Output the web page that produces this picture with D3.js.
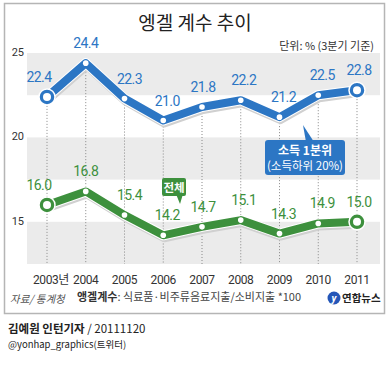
<!DOCTYPE html>
<html>
<head>
<meta charset="utf-8">
<script src="https://cdn.jsdelivr.net/npm/d3@7"></script>
<style>
  body { margin: 0; background: #fff; }
  text { font-family: Roboto, "Noto Sans CJK KR", sans-serif; }
  .kr { font-family: "Noto Sans CJK KR", sans-serif; }
</style>
</head>
<body>
<svg id="chart" width="389" height="378"></svg>
<script>
// data
var years = ["2003", "2004", "2005", "2006", "2007", "2008", "2009", "2010", "2011"];
var yearLabels = ["2003년", "2004", "2005", "2006", "2007", "2008", "2009", "2010", "2011"];
var lowIncome = [22.4, 24.4, 22.3, 21.0, 21.8, 22.2, 21.2, 22.5, 22.8];
var total = [16.0, 16.8, 15.4, 14.2, 14.7, 15.1, 14.3, 14.9, 15.0];
var yTicks = [25, 20, 15];
var bands = [[22.5, 25], [17.5, 20], [12.5, 15]];

var blue = "#2c76c4", green = "#3d903d";

var svg = d3.select("#chart");

// frame
svg.append("rect").attr("x", 4.5).attr("y", 3.5).attr("width", 380).attr("height", 310)
    .attr("fill", "#fff").attr("stroke", "#b5b5b5").attr("stroke-width", 1.5);

var x = d3.scalePoint().domain(years).range([47, 357]);
var y = d3.scaleLinear().domain([12.5, 25]).range([264, 53]);

// grey bands
svg.selectAll("rect.band").data(bands).enter().append("rect")
    .attr("class", "band")
    .attr("x", 27).attr("width", 353)
    .attr("y", function (d) { return y(d[1]); })
    .attr("height", function (d) { return y(d[0]) - y(d[1]); })
    .attr("fill", "#ebebeb");

// y tick labels
svg.selectAll("text.ytick").data(yTicks).enter().append("text")
    .attr("class", "ytick")
    .attr("x", 24).attr("y", function (d) { return y(d) + 3; })
    .attr("text-anchor", "end").attr("font-size", 11).attr("fill", "#333")
    .text(function (d) { return d; });

// dotted drop lines
svg.selectAll("line.drop").data(years).enter().append("line")
    .attr("class", "drop")
    .attr("x1", function (d) { return x(d); }).attr("x2", function (d) { return x(d); })
    .attr("y1", function (d, i) { return y(lowIncome[i]); }).attr("y2", y(12.5))
    .attr("stroke", "#888").attr("stroke-width", 1).attr("stroke-dasharray", "1,2");

// title
svg.append("text").attr("class", "kr").attr("x", 195).attr("y", 30)
    .attr("text-anchor", "middle").attr("font-size", 19).attr("fill", "#222")
    .text("엥겔 계수 추이");
svg.append("text").attr("class", "kr").attr("x", 374).attr("y", 50)
    .attr("text-anchor", "end").attr("font-size", 11).attr("fill", "#333")
    .text("단위: % (3분기 기준)");

// series
function drawSeries(vals, color, labelDx) {
    var line = d3.line()
        .x(function (d, i) { return x(years[i]); })
        .y(function (d) { return y(d); });
    svg.append("path").datum(vals).attr("d", line)
        .attr("transform", "translate(1,3)")
        .attr("fill", "none").attr("stroke", "#d0d0d0").attr("stroke-width", 8)
        .attr("stroke-linejoin", "round");
    svg.append("path").datum(vals).attr("d", line)
        .attr("fill", "none").attr("stroke", "#fff").attr("stroke-width", 10)
        .attr("stroke-linejoin", "round");
    svg.append("path").datum(vals).attr("d", line)
        .attr("fill", "none").attr("stroke", color).attr("stroke-width", 8)
        .attr("stroke-linejoin", "round");
    var last = vals.length - 1;
    svg.selectAll(null).data(vals).enter().append("circle")
        .attr("cx", function (d, i) { return x(years[i]); })
        .attr("cy", function (d) { return y(d); })
        .attr("r", function (d, i) { return (i == 0 || i == last) ? 8 : 0; })
        .attr("fill", color).attr("stroke", "#fff").attr("stroke-width", 1.5);
    svg.selectAll(null).data(vals).enter().append("circle")
        .attr("cx", function (d, i) { return x(years[i]); })
        .attr("cy", function (d) { return y(d); })
        .attr("r", function (d, i) { return (i == 0 || i == last) ? 4 : 2.8; })
        .attr("fill", "#fff");
    svg.selectAll(null).data(vals).enter().append("text")
        .attr("x", function (d, i) { return x(years[i]) + labelDx[i]; })
        .attr("y", function (d) { return y(d) - 15; })
        .attr("text-anchor", "middle").attr("font-size", 14).attr("letter-spacing", -0.6)
        .attr("fill", color)
        .text(function (d) { return d.toFixed(1); });
}
var dxs = [-8, 0, 5, 4, 1, 3, 4, 4, 2];
drawSeries(lowIncome, blue, dxs);
drawSeries(total, green, dxs);

// callout: low income
var cb = svg.append("g");
cb.append("path").attr("d", "M303,125 L306,142 L314,142 Z").attr("fill", blue);
cb.append("rect").attr("x", 265).attr("y", 140).attr("width", 80).attr("height", 35)
    .attr("rx", 3).attr("fill", blue);
cb.append("text").attr("class", "kr").attr("x", 305).attr("y", 155)
    .attr("text-anchor", "middle").attr("font-size", 12).attr("font-weight", "bold").attr("fill", "#fff")
    .text("소득 1분위");
cb.append("text").attr("class", "kr").attr("x", 305).attr("y", 170)
    .attr("text-anchor", "middle").attr("font-size", 11.5).attr("fill", "#fff")
    .text("(소득하위 20%)");

// callout: total
var cg = svg.append("g");
cg.append("path").attr("d", "M176,194 L183,194 L180,204 Z").attr("fill", green);
cg.append("rect").attr("x", 162).attr("y", 178).attr("width", 24).attr("height", 18)
    .attr("rx", 2).attr("fill", green);
cg.append("text").attr("class", "kr").attr("x", 174).attr("y", 192)
    .attr("text-anchor", "middle").attr("font-size", 11.5).attr("font-weight", "bold").attr("fill", "#fff")
    .text("전체");

// x axis labels
svg.selectAll("text.xl").data(yearLabels).enter().append("text")
    .attr("class", "xl")
    .attr("x", function (d, i) { return x(years[i]) + (i == 0 ? 4 : 0); })
    .attr("y", 284)
    .attr("text-anchor", "middle").attr("font-size", 12).attr("letter-spacing", -0.4).attr("fill", "#333")
    .text(function (d) { return d; });

// footer
svg.append("text").attr("class", "kr").attr("x", 10).attr("y", 303)
    .attr("font-size", 10.5).attr("font-style", "italic").attr("fill", "#555")
    .text("자료/ 통계청");
var f = svg.append("text").attr("class", "kr").attr("x", 77).attr("y", 301)
    .attr("font-size", 11).attr("fill", "#444");
f.append("tspan").attr("font-weight", "bold").attr("fill", "#333").text("앵겔계수");
f.append("tspan").text(": 식료품·비주류음료지출/소비지출 *100");

svg.append("circle").attr("cx", 334).attr("cy", 298).attr("r", 6.5).attr("fill", "#2456b8");
svg.append("text").attr("x", 334).attr("y", 302).attr("text-anchor", "middle")
    .attr("font-size", 10).attr("font-style", "italic").attr("font-weight", "bold").attr("fill", "#fff").text("y");
svg.append("text").attr("class", "kr").attr("x", 342).attr("y", 302)
    .attr("font-size", 10.5).attr("font-weight", "bold").attr("fill", "#222")
    .text("연합뉴스");

var by = svg.append("text").attr("class", "kr").attr("x", 8).attr("y", 333)
    .attr("font-size", 11.5).attr("fill", "#222");
by.append("tspan").attr("font-weight", "bold").text("김예원 인턴기자");
by.append("tspan").text(" / 20111120");
svg.append("text").attr("class", "kr").attr("x", 8).attr("y", 348)
    .attr("font-size", 9.5).attr("fill", "#222")
    .text("@yonhap_graphics(트위터)");
</script>
</body>
</html>
